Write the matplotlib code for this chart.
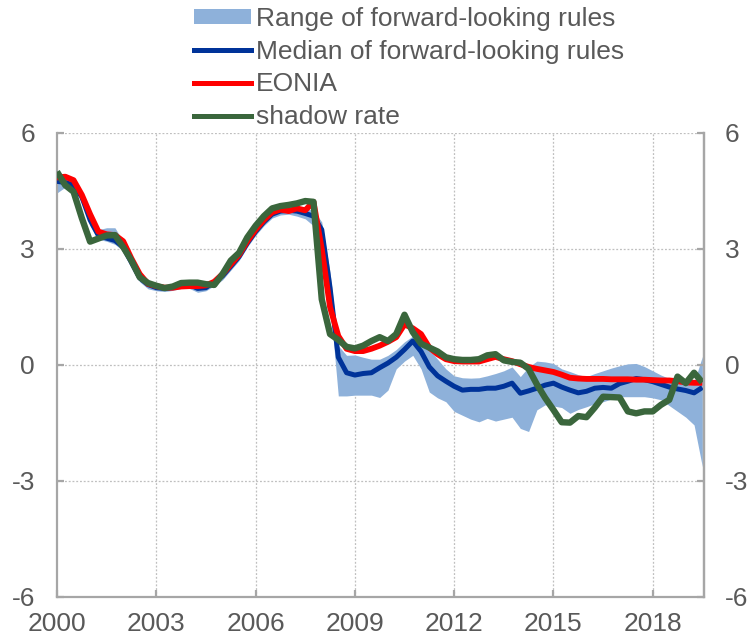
import numpy as np
import matplotlib.pyplot as plt
from matplotlib.patches import Patch
from matplotlib.lines import Line2D

# quarterly observations, 2000Q1 onwards
start_year = 2000

# shadow rate
shadow = [5.0, 4.65, 4.48, 3.8, 3.19, 3.27, 3.35, 3.36, 3.05, 2.7,
          2.27, 2.12, 2.05, 1.99, 2.03, 2.12, 2.13, 2.13, 2.09, 2.07,
          2.35, 2.7, 2.9, 3.3, 3.6, 3.85, 4.05, 4.11, 4.14, 4.18,
          4.24, 4.22, 1.7, 0.8, 0.65, 0.47, 0.43, 0.5, 0.62, 0.72,
          0.62, 0.8, 1.3, 0.85, 0.55, 0.45, 0.35, 0.2, 0.15, 0.13,
          0.13, 0.15, 0.25, 0.28, 0.12, 0.08, 0.06, -0.1, -0.5, -0.85,
          -1.16, -1.48, -1.49, -1.32, -1.35, -1.1, -0.82, -0.83, -0.84, -1.2,
          -1.25, -1.2, -1.2, -1.03, -0.9, -0.3, -0.47, -0.2, -0.45]

# EONIA
eonia = [4.85, 4.87, 4.78, 4.4, 3.9, 3.45, 3.38, 3.36, 3.2, 2.75,
         2.35, 2.1, 2.04, 2.0, 2.0, 2.03, 2.04, 2.04, 2.06, 2.15,
         2.35, 2.6, 2.85, 3.2, 3.5, 3.75, 3.95, 4.02, 3.98, 4.05,
         4.0, 4.22, 3.0, 1.5, 0.75, 0.42, 0.36, 0.36, 0.42, 0.5,
         0.6, 0.72, 1.05, 0.95, 0.8, 0.45, 0.28, 0.15, 0.1, 0.09,
         0.09, 0.09, 0.15, 0.21, 0.15, 0.1, 0.02, -0.05, -0.1, -0.14,
         -0.18, -0.25, -0.33, -0.35, -0.36, -0.36, -0.36, -0.37, -0.37, -0.37,
         -0.38, -0.38, -0.39, -0.4, -0.4, -0.42, -0.45, -0.46, -0.46]

# median of forward-looking rules
median = [4.75, 4.72, 4.65, 4.35, 3.75, 3.35, 3.28, 3.22, 3.05, 2.65,
          2.25, 2.08, 2.0, 1.98, 2.0, 2.05, 2.08, 1.98, 2.0, 2.15,
          2.3, 2.55, 2.8, 3.15, 3.45, 3.7, 3.9, 3.98, 4.0, 3.98,
          3.92, 3.85, 3.5, 2.0, 0.2, -0.2, -0.26, -0.22, -0.2, -0.07,
          0.05, 0.2, 0.4, 0.62, 0.35, -0.05, -0.28, -0.42, -0.55, -0.65,
          -0.63, -0.63, -0.6, -0.6, -0.55, -0.47, -0.73, -0.67, -0.6, -0.52,
          -0.47, -0.57, -0.65, -0.72, -0.68, -0.6, -0.58, -0.6, -0.48, -0.42,
          -0.35, -0.38, -0.43, -0.5, -0.57, -0.62, -0.66, -0.72, -0.58]

# range of forward-looking rules
range_hi = [4.95, 4.85, 4.75, 4.5, 3.95, 3.5, 3.55, 3.55, 3.2, 2.8,
            2.35, 2.18, 2.1, 2.06, 2.07, 2.12, 2.15, 2.1, 2.1, 2.22,
            2.4, 2.65, 2.9, 3.25, 3.55, 3.8, 4.0, 4.08, 4.1, 4.08,
            4.05, 4.0, 3.7, 2.4, 0.5, 0.25, 0.26, 0.2, 0.15, 0.15,
            0.25, 0.4, 0.6, 0.75, 0.5, 0.4, 0.15, -0.1, -0.28, -0.33,
            -0.34, -0.33, -0.28, -0.22, -0.15, -0.05, -0.3, -0.05, 0.1, 0.08,
            0.04, -0.1, -0.17, -0.25, -0.3, -0.22, -0.15, -0.08, -0.02, 0.03,
            0.04, -0.04, -0.15, -0.26, -0.35, -0.4, -0.42, -0.45, 0.22]
range_lo = [4.45, 4.6, 4.55, 4.2, 3.6, 3.25, 3.2, 3.12, 2.95, 2.55,
            2.15, 1.97, 1.92, 1.9, 1.93, 1.98, 1.98, 1.88, 1.92, 2.05,
            2.2, 2.45, 2.7, 3.05, 3.35, 3.6, 3.8, 3.88, 3.9, 3.85,
            3.78, 3.6, 3.1, 1.6, -0.8, -0.8, -0.78, -0.78, -0.78, -0.84,
            -0.65, -0.1, 0.1, 0.25, -0.1, -0.7, -0.85, -0.95, -1.2, -1.3,
            -1.4, -1.47, -1.38, -1.45, -1.4, -1.35, -1.64, -1.72, -1.16, -1.03,
            -1.06, -1.1, -1.25, -1.15, -1.08, -1.0, -0.95, -0.88, -0.82, -0.82,
            -0.82, -0.82, -0.85, -0.9, -1.05, -1.2, -1.35, -1.55, -2.63]

x_ticks = [2000, 2003, 2006, 2009, 2012, 2015, 2018]
y_ticks = [-6, -3, 0, 3, 6]

labels = ["Range of forward-looking rules", "Median of forward-looking rules",
          "EONIA", "shadow rate"]

# -----------------------------
# style
# -----------------------------
c_band = "#8EB1DA"
c_median = "#003399"
c_eonia = "#FF0000"
c_shadow = "#3A663C"
c_text = "#595959"
c_axis = "#A6A6A6"
c_grid = "#BFBFBF"
fs = 19

plt.rcParams["font.family"] = ["Liberation Sans", "DejaVu Sans"]
plt.rcParams["axes.unicode_minus"] = False

t = start_year + 0.25 * np.arange(len(shadow))

fig = plt.figure(figsize=(7.53, 6.40), dpi=100)
ax = fig.add_axes([57 / 753, 1 - 597 / 640, (704 - 57) / 753, (597 - 133) / 640])

ax.fill_between(t, range_lo, range_hi, color=c_band, lw=0, zorder=2)
ax.plot(t, median, color=c_median, lw=3.6, solid_capstyle="butt", zorder=3)
ax.plot(t, eonia, color=c_eonia, lw=4.2, solid_capstyle="butt", zorder=4)
ax.plot(t, shadow, color=c_shadow, lw=4.6, solid_capstyle="butt", zorder=5)

ax.set_xlim(2000, 2019.55)
ax.set_ylim(-6, 6)
ax.set_xticks(x_ticks)
ax.set_yticks(y_ticks)

# dotted grid
for xv in x_ticks[1:]:
    ax.axvline(xv, color=c_grid, lw=0.9, ls=(0, (1.5, 1.5)), zorder=1)
for yv in y_ticks[1:]:
    ax.axhline(yv, color=c_grid, lw=0.9, ls=(0, (1.5, 1.5)), zorder=1)

ax.spines["top"].set_visible(False)
for side in ("left", "right", "bottom"):
    ax.spines[side].set_color(c_axis)
    ax.spines[side].set_linewidth(1.6)

ax.tick_params(axis="both", direction="in", length=5, width=1.6, color=c_axis,
               labelsize=fs, labelcolor=c_text)
ax.tick_params(axis="y", pad=16)
ax.tick_params(axis="x", pad=11)

ax2 = ax.twinx()
ax2.set_ylim(-6, 6)
ax2.set_yticks(y_ticks)
for side in ("top", "left", "bottom"):
    ax2.spines[side].set_visible(False)
ax2.spines["right"].set_color(c_axis)
ax2.spines["right"].set_linewidth(1.6)
ax2.tick_params(axis="y", direction="in", length=5, width=1.6, color=c_axis,
                labelsize=fs, labelcolor=c_text, pad=15)

handles = [Patch(facecolor=c_band, edgecolor="none"),
           Line2D([], [], color=c_median, lw=3.6),
           Line2D([], [], color=c_eonia, lw=3.6),
           Line2D([], [], color=c_shadow, lw=3.6)]
leg = fig.legend(handles, labels, loc="upper left",
                 bbox_to_anchor=(194 / 753, 1 - 7 / 640), frameon=False,
                 fontsize=fs, handlelength=2.15, handleheight=0.5,
                 handletextpad=0.2, labelspacing=0.33, borderpad=0,
                 borderaxespad=0)
for txt in leg.get_texts():
    txt.set_color(c_text)

fig.savefig("out.png", dpi=100)
